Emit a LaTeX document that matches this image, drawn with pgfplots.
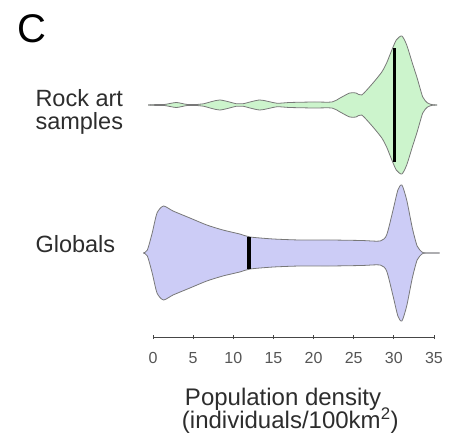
\documentclass[border=0pt]{standalone}
\usepackage{pgfplots}
\pgfplotsset{compat=1.18}
\usepackage{pgfplotstable}
\usepgfplotslibrary{fillbetween}
\usepackage{fontspec}
\setmainfont{Liberation Sans}
\definecolor{rockfill}{RGB}{204,244,204}
\definecolor{globfill}{RGB}{204,204,246}
\definecolor{outl}{RGB}{120,120,120}
\definecolor{axisgray}{RGB}{70,70,70}
\definecolor{tickgray}{RGB}{85,85,85}
\definecolor{txt}{RGB}{45,45,45}

\pgfplotstableread{
x hw
-0.6 0
0.3 0.4
1.5 0.6
2.9 2.5
4.2 0.6
5.6 0.6
6.3 1.2
8.3 5
10.4 1.2
11.2 1.2
13.3 5
15.4 1.8
17.0 2.5
20.0 3
22.3 3
23.3 7
24.5 12
25.3 12
26.0 10
27.4 22
28.5 33
29.1 42
29.6 52
30.3 65
31.0 69
31.6 60
32.3 42
32.9 27
33.6 8
34.2 2
34.8 0.3
35.4 0
}\rock

\pgfplotstableread{
x hw
-1.2 0
-0.7 3
-0.1 20
0.5 40
1.3 47
2.5 42
4.6 35
6.7 28
8.7 23
10.8 19
12.1 16
15.0 14
18.3 13
22.0 13
26.0 12.5
28.3 12
29.1 18
29.9 43
30.5 63
31.0 68
31.6 53
32.3 25
32.9 7
33.5 1
34.0 0
35.7 0
}\glob

\begin{document}
\begin{tikzpicture}
\begin{axis}[
  scale only axis, width=281bp, height=307bp,
  xmin=0, xmax=35, ymin=102, ymax=409,
  clip=false, set layers,
  axis x line*=bottom, axis y line=none,
  x axis line style={-, draw=axisgray, line width=1bp},
  xtick={0,5,...,35},
  tick align=center, major tick length=4bp,
  every tick/.style={axisgray, line width=1bp},
  xticklabel style={anchor=base, yshift=-24bp, font=\fontsize{16bp}{18bp}\selectfont, text=tickgray},
  /pgf/number format/assume math mode=true,
]
% Rock art samples
\addplot[name path=ru, draw=outl, line width=0.8bp, smooth, tension=0.4] table[x=x, y expr=334+\thisrow{hw}] {\rock};
\addplot[name path=rl, draw=outl, line width=0.8bp, smooth, tension=0.4] table[x=x, y expr=334-\thisrow{hw}] {\rock};
\addplot[rockfill] fill between[of=ru and rl];
% Globals
\addplot[name path=gu, draw=outl, line width=0.8bp, smooth, tension=0.4] table[x=x, y expr=186+\thisrow{hw}] {\glob};
\addplot[name path=gl, draw=outl, line width=0.8bp, smooth, tension=0.4] table[x=x, y expr=186-\thisrow{hw}] {\glob};
\addplot[globfill] fill between[of=gu and gl];
% medians
\addplot[black, line width=3.5bp] coordinates {(30.1,277) (30.1,391)};
\addplot[black, line width=3.5bp] coordinates {(11.95,170) (11.95,202)};
% labels
\node[anchor=base west, font=\fontsize{40bp}{44bp}\selectfont, text=black] at (axis cs:-17.3,396) {C};
\node[anchor=base west, font=\fontsize{23.5bp}{26bp}\selectfont, text=txt] at (axis cs:-15.07,332) {Rock art};
\node[anchor=base west, font=\fontsize{23.5bp}{26bp}\selectfont, text=txt] at (axis cs:-15.07,309) {samples};
\node[anchor=base west, font=\fontsize{23.5bp}{26bp}\selectfont, text=txt] at (axis cs:-15.07,186) {Globals};
\node[anchor=base, font=\fontsize{24bp}{26bp}\selectfont, text=txt] at (axis cs:16.2,34) {Population density};
\node[anchor=base, font=\fontsize{24bp}{26bp}\selectfont, text=txt] at (axis cs:17.1,11) {(individuals/100km\textsuperscript{2})};
\end{axis}
\pgfresetboundingbox
\path[use as bounding box] (-153bp,-102bp) rectangle (296bp,337bp);
\end{tikzpicture}
\end{document}
